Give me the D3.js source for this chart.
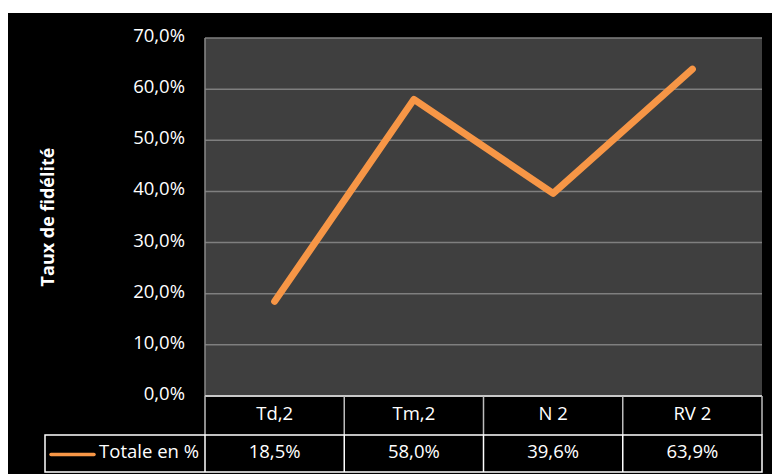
<!DOCTYPE html>
<html>
<head>
<meta charset="utf-8">
<script src="https://cdn.jsdelivr.net/npm/d3@7"></script>
<style>
  html, body { margin: 0; padding: 0; background: #fff; }
  svg { display: block; }
  text { font-family: "Open Sans", sans-serif; fill: #fff; }
</style>
</head>
<body>
<script>
// Fidelity rate per category
const categories = ["Td,2", "Tm,2", "N 2", "RV 2"];
const seriesName = "Totale en %";
const totals = [18.5, 58.0, 39.6, 63.9];
const yTicks = [0, 10, 20, 30, 40, 50, 60, 70];
const yTitle = "Taux de fidélité";

const W = 772, H = 474;
const plot = { left: 205, right: 762, top: 38, bottom: 396 };
const headerBottom = 435, tableBottom = 472, legendLeft = 45;
const orange = "#f79646";
const fs = 18.5;

const fmt = v => d3.format(".1f")(v).replace(".", ",") + "%";

const svg = d3.select("body").append("svg").attr("width", W).attr("height", H);

// black chart area
svg.append("rect").attr("x", 8).attr("y", 13).attr("width", W - 8).attr("height", H - 13).attr("fill", "#000");

const x = d3.scaleBand().domain(categories).range([plot.left, plot.right]);
const y = d3.scaleLinear().domain([0, 70]).range([plot.bottom, plot.top]);

// plot background
svg.append("rect")
  .attr("x", plot.left).attr("y", plot.top)
  .attr("width", plot.right - plot.left).attr("height", plot.bottom - plot.top)
  .attr("fill", "#3f3f3f");

// gridlines
svg.append("g").selectAll("line").data(yTicks.filter(t => t > 0)).join("line")
  .attr("x1", plot.left).attr("x2", plot.right)
  .attr("y1", d => y(d)).attr("y2", d => y(d))
  .attr("stroke", "#7f7f7f").attr("stroke-width", 1.5);

// left axis line
svg.append("line")
  .attr("x1", plot.left).attr("x2", plot.left)
  .attr("y1", plot.top).attr("y2", plot.bottom)
  .attr("stroke", "#8a8a8a").attr("stroke-width", 1.5);

// y tick labels
svg.append("g").selectAll("text").data(yTicks).join("text")
  .attr("x", 185).attr("y", d => y(d) - 1)
  .attr("text-anchor", "end").attr("dominant-baseline", "middle")
  .attr("font-size", fs)
  .text(d => fmt(d));

// y axis title
svg.append("text")
  .attr("transform", `translate(49,${(plot.top + plot.bottom) / 2}) rotate(-90)`)
  .attr("text-anchor", "middle").attr("dominant-baseline", "middle")
  .attr("font-size", 18).attr("font-weight", "bold")
  .text(yTitle);

// line series
const line = d3.line().x((d, i) => x(categories[i]) + x.bandwidth() / 2).y(d => y(d));
svg.append("path").datum(totals)
  .attr("d", line)
  .attr("fill", "none").attr("stroke", orange)
  .attr("stroke-width", 7).attr("stroke-linecap", "round").attr("stroke-linejoin", "round");

// data table
const tbl = svg.append("g");
const colEdges = categories.map(c => x(c)).concat([plot.right]);
// header row
tbl.append("line").attr("x1", plot.left).attr("x2", plot.right).attr("y1", plot.bottom).attr("y2", plot.bottom)
  .attr("stroke", "#c8c8c8").attr("stroke-width", 2);
tbl.selectAll(".hv").data(colEdges).join("line").attr("class", "hv")
  .attr("x1", d => d).attr("x2", d => d).attr("y1", plot.bottom).attr("y2", headerBottom)
  .attr("stroke", "#bdbdbd").attr("stroke-width", 1.5);
// legend/value row
tbl.append("rect")
  .attr("x", legendLeft).attr("y", headerBottom)
  .attr("width", plot.right - legendLeft).attr("height", tableBottom - headerBottom)
  .attr("fill", "none").attr("stroke", "#fff").attr("stroke-width", 1.5);
tbl.selectAll(".vv").data(colEdges.slice(0, -1)).join("line").attr("class", "vv")
  .attr("x1", d => d).attr("x2", d => d).attr("y1", headerBottom).attr("y2", tableBottom)
  .attr("stroke", "#fff").attr("stroke-width", 1.5);

tbl.selectAll(".ht").data(categories).join("text").attr("class", "ht")
  .attr("x", d => x(d) + x.bandwidth() / 2).attr("y", (plot.bottom + headerBottom) / 2)
  .attr("text-anchor", "middle").attr("dominant-baseline", "middle").attr("font-size", fs)
  .text(d => d);
tbl.selectAll(".vt").data(totals).join("text").attr("class", "vt")
  .attr("x", (d, i) => x(categories[i]) + x.bandwidth() / 2).attr("y", (headerBottom + tableBottom) / 2)
  .attr("text-anchor", "middle").attr("dominant-baseline", "middle").attr("font-size", fs)
  .text(d => fmt(d));

// legend key
const ly = (headerBottom + tableBottom) / 2 + 1;
tbl.append("line").attr("x1", 51).attr("x2", 94).attr("y1", ly).attr("y2", ly)
  .attr("stroke", orange).attr("stroke-width", 3.5).attr("stroke-linecap", "round");
tbl.append("text").attr("x", 199).attr("y", ly - 1)
  .attr("text-anchor", "end").attr("dominant-baseline", "middle").attr("font-size", fs)
  .text(seriesName);
</script>
</body>
</html>
